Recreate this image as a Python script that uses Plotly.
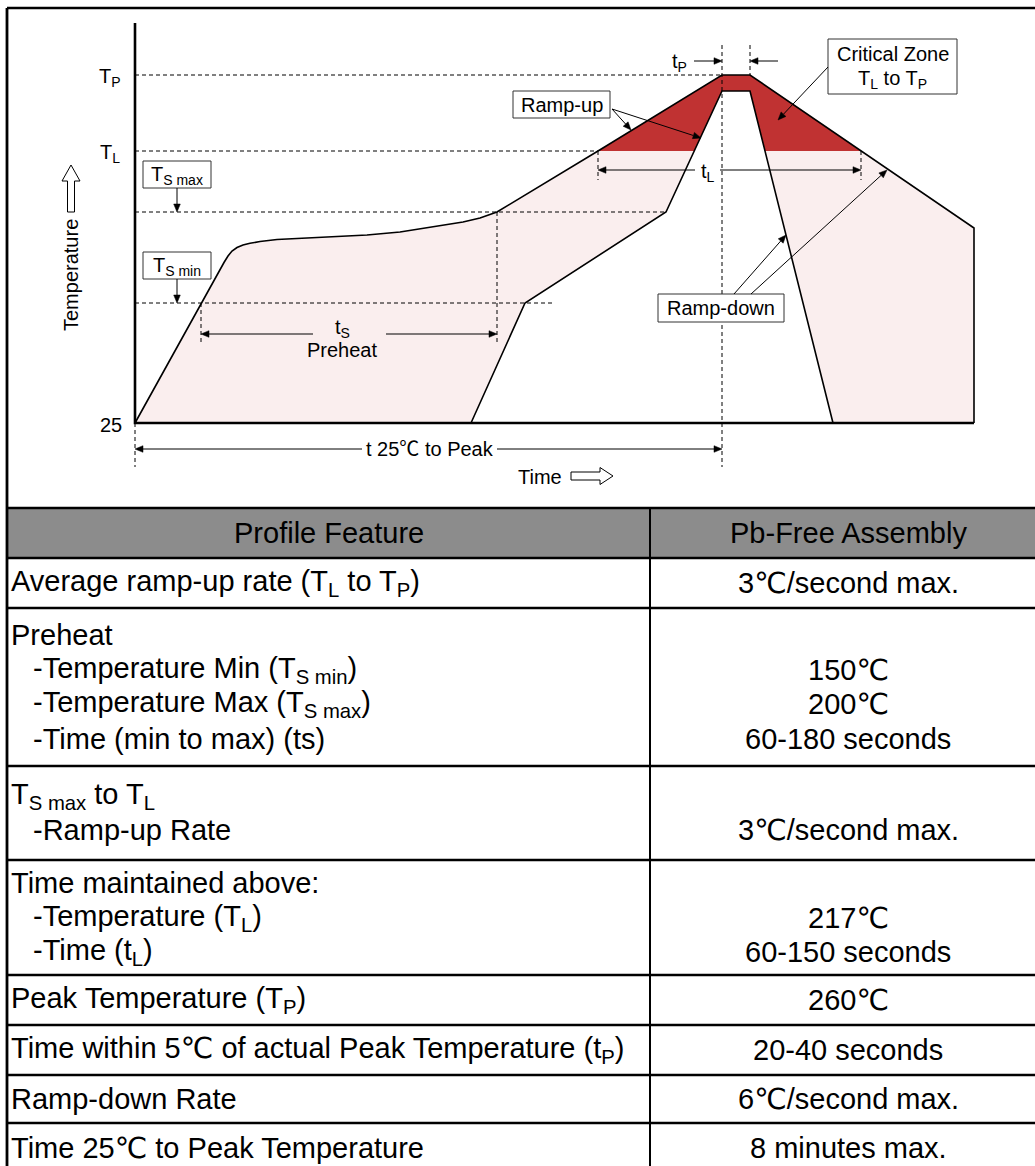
import math
import plotly.graph_objects as go

W, H = 1035, 1166
OX, OY = 135, 423          # pixel position of diagram origin (time 0, 25 °C)

FONT = "Liberation Sans, Arial, DejaVu Sans, sans-serif"
FONT_CJK = "Liberation Sans, Arial, Noto Sans CJK SC, sans-serif"
D_SIZE = 20
T_SIZE = 29

# ---------------- schematic reflow profile (diagram units) ----------------
LEVEL_25 = 0
LEVEL_TS_MIN = 120
LEVEL_TS_MAX = 211
LEVEL_TL = 272
LEVEL_TP5 = 332
LEVEL_TP = 348
AXIS_TOP = 400

# outer (maximum) profile
upper_time = [0, 66, 89, 93, 97, 102, 108, 115, 125, 142, 195, 232, 265, 298, 328, 345, 362,
              463, 587, 615, 726, 839, 839]
upper_temp = [0, 120, 160.5, 167, 172, 175.5, 178, 179.7, 181.5, 183.5, 186.5, 188, 191, 196, 201, 205, 211,
              272, 348, 348, 272, 195, 0]
# inner (minimum) profile
lower_time = [336, 390, 531, 587, 615, 698]
lower_temp = [0, 120, 211, 332, 332, 0]

T_TS_START = 66
T_TS_END = 362
T_TL_START = 463
T_TL_END = 726
T_PEAK_START = 587
T_PEAK_END = 615
T_END = 839

# ---------------- table content ----------------
header = ["Profile Feature", "Pb-Free Assembly"]
feature_lines = [
    ["Average ramp-up rate (T<sub>L</sub> to T<sub>P</sub>)"],
    ["Preheat", "-Temperature Min (T<sub>S min</sub>)", "-Temperature Max (T<sub>S max</sub>)",
     "-Time (min to max) (ts)"],
    ["T<sub>S max</sub> to T<sub>L</sub>", "-Ramp-up Rate"],
    ["Time maintained above:", "-Temperature (T<sub>L</sub>)", "-Time (t<sub>L</sub>)"],
    ["Peak Temperature (T<sub>P</sub>)"],
    ["Time within 5℃ of actual Peak Temperature (t<sub>P</sub>)"],
    ["Ramp-down Rate"],
    ["Time 25℃ to Peak Temperature"],
]
value_lines = [
    ["3℃/second max."],
    ["", "150℃", "200℃", "60-180 seconds"],
    ["", "3℃/second max."],
    ["", "217℃", "60-150 seconds"],
    ["260℃"],
    ["20-40 seconds"],
    ["6℃/second max."],
    ["8 minutes max."],
]
row_edges = [508, 558, 608, 766, 860, 975, 1025, 1075, 1123, 1173]
LINE_GAP = 34.5
COL_X = 650
RIGHT_X = 1046


# ---------------- helpers ----------------
def xp(t):
    return OX + t


def yp(v):
    return OY - v


def PX(x):
    return x / W


def PY(y):
    return 1 - y / H


def clip_above(ts, vs, level):
    pts = []
    for i in range(len(ts)):
        t, v = ts[i], vs[i]
        if i > 0:
            t0, v0 = ts[i - 1], vs[i - 1]
            if (v0 < level < v) or (v0 > level > v):
                f = (level - v0) / (v - v0)
                pts.append((t0 + f * (t - t0), level))
        if v >= level:
            pts.append((t, v))
    return pts


shapes = []
annotations = []
DASH = "4px,3px"


def line_px(x0, y0, x1, y1, width=1.0, dash=None, color="black"):
    ln = dict(color=color, width=width)
    if dash:
        ln["dash"] = dash
    shapes.append(dict(type="line", xref="paper", yref="paper",
                       x0=PX(x0), y0=PY(y0), x1=PX(x1), y1=PY(y1), line=ln))


def rect_px(x0, y0, x1, y1, fill="white", lc="#333333", lw=1.0):
    shapes.append(dict(type="rect", xref="paper", yref="paper",
                       x0=PX(x0), y0=PY(y0), x1=PX(x1), y1=PY(y1),
                       fillcolor=fill, line=dict(color=lc, width=lw)))


def poly_px(pts, fill="black", lc="black", lw=0.5):
    path = "M " + " L ".join(f"{PX(x)},{PY(y)}" for x, y in pts) + " Z"
    shapes.append(dict(type="path", xref="paper", yref="paper", path=path,
                       fillcolor=fill, line=dict(color=lc, width=lw)))


def text_px(x, y, text, size=D_SIZE, xanchor="center", yanchor="middle", family=FONT, angle=0):
    annotations.append(dict(xref="paper", yref="paper", x=PX(x), y=PY(y), text=text,
                            showarrow=False, xanchor=xanchor, yanchor=yanchor,
                            font=dict(family=family, size=size, color="black"),
                            textangle=angle, borderpad=0))


def arrow_px(tipx, tipy, tailx, taily, head=8.0, hw=3.3):
    dx, dy = tipx - tailx, tipy - taily
    d = math.hypot(dx, dy)
    ux, uy = dx / d, dy / d
    bx, by = tipx - ux * head, tipy - uy * head
    line_px(tailx, taily, bx, by, width=1.0)
    poly_px([(tipx, tipy), (bx - uy * hw, by + ux * hw), (bx + uy * hw, by - ux * hw)])


fig = go.Figure()

# pink band between profiles
poly_t = upper_time + lower_time[::-1]
poly_v = upper_temp + lower_temp[::-1]
fig.add_trace(go.Scatter(x=poly_t, y=poly_v, mode="lines", fill="toself",
                         fillcolor="#faeeee", line=dict(width=0), hoverinfo="skip", showlegend=False))

# critical zone (above T_L)
up_clip = clip_above(upper_time, upper_temp, LEVEL_TL)
lo_clip = clip_above(lower_time, lower_temp, LEVEL_TL)
crit = up_clip + lo_clip[::-1]
fig.add_trace(go.Scatter(x=[p[0] for p in crit], y=[p[1] for p in crit], mode="lines", fill="toself",
                         fillcolor="#c03232", line=dict(width=0), hoverinfo="skip", showlegend=False))

# profile outlines
fig.add_trace(go.Scatter(x=upper_time, y=upper_temp, mode="lines",
                         line=dict(color="black", width=1.6), hoverinfo="skip", showlegend=False))
fig.add_trace(go.Scatter(x=lower_time, y=lower_temp, mode="lines",
                         line=dict(color="black", width=1.6), hoverinfo="skip", showlegend=False))
# axes
fig.add_trace(go.Scatter(x=[0, 0, T_END], y=[AXIS_TOP, 0, 0], mode="lines",
                         line=dict(color="black", width=2.6), hoverinfo="skip", showlegend=False))

# ---------------- dashed guide lines ----------------
line_px(OX, yp(LEVEL_TP), xp(T_PEAK_START), yp(LEVEL_TP), dash=DASH)
line_px(OX, yp(LEVEL_TL), xp(T_TL_START), yp(LEVEL_TL), dash=DASH)
line_px(OX, yp(LEVEL_TS_MAX), xp(lower_time[2]), yp(LEVEL_TS_MAX), dash=DASH)
line_px(OX, yp(LEVEL_TS_MIN), xp(lower_time[1]) + 27, yp(LEVEL_TS_MIN), dash=DASH)
line_px(xp(T_PEAK_START), 45, xp(T_PEAK_START), 467, dash=DASH)
line_px(xp(T_PEAK_END), 45, xp(T_PEAK_END), yp(LEVEL_TP), dash=DASH)
line_px(xp(T_TS_START), yp(LEVEL_TS_MIN), xp(T_TS_START), 344, dash=DASH)
line_px(xp(T_TS_END), yp(LEVEL_TS_MAX), xp(T_TS_END), 345, dash=DASH)
line_px(xp(T_TL_START), yp(LEVEL_TL), xp(T_TL_START), 180, dash=DASH)
line_px(xp(T_TL_END), yp(LEVEL_TL), xp(T_TL_END), 180, dash=DASH)
line_px(OX, OY, OX, 467, dash=DASH)

# ---------------- label boxes ----------------
rect_px(143, 161, 211, 188)
rect_px(143, 252, 211, 279)
rect_px(513, 91, 610, 118)
rect_px(828, 39, 957, 94)
rect_px(658, 294, 784, 322)

# hollow direction arrows
ux0 = 71
poly_px([(ux0, 165), (ux0 + 9, 181), (ux0 + 3.5, 181), (ux0 + 3.5, 212), (ux0 - 3.5, 212),
         (ux0 - 3.5, 181), (ux0 - 9, 181)], fill="white", lc="black", lw=1)
ry = 476
poly_px([(613, ry), (600, ry - 8.5), (600, ry - 4), (571, ry - 4), (571, ry + 4), (600, ry + 4),
         (600, ry + 8.5)], fill="white", lc="black", lw=1)

# ---------------- arrows ----------------
arrow_px(177, yp(LEVEL_TS_MAX), 177, 188)
arrow_px(177, yp(LEVEL_TS_MIN), 177, 279)
arrow_px(xp(T_TS_START), 334, 313, 334)
arrow_px(xp(T_TS_END), 334, 386, 334)
arrow_px(xp(T_TL_START), 170, 695, 170)
arrow_px(xp(T_TL_END), 170, 720, 170)
arrow_px(OX, 449, 362, 449)
arrow_px(xp(T_PEAK_START), 449, 497, 449)
arrow_px(xp(T_PEAK_START), 61, 694, 61)
arrow_px(xp(T_PEAK_END), 61, 778, 61)
arrow_px(631, 130, 612, 109)
arrow_px(701, 138, 612, 109)
arrow_px(778, 120, 828, 67)
arrow_px(786, 235, 734, 294)
arrow_px(887, 170, 751, 294)

# ---------------- diagram texts ----------------
text_px(110, yp(LEVEL_TP) + 3, "T<sub>P</sub>")
text_px(110, yp(LEVEL_TL) + 3, "T<sub>L</sub>")
text_px(111, OY + 2, "25")
text_px(71, 275, "Temperature", angle=-90)
text_px(679, 62, "t<sub>P</sub>")
text_px(342, 328, "t<sub>S</sub>")
text_px(342, 350, "Preheat")
text_px(708, 172, "t<sub>L</sub>")
text_px(430, 449, "t 25℃ to Peak", family=FONT_CJK)
text_px(540, 477, "Time")
text_px(177, 175, "T<sub>S max</sub>")
text_px(177, 266, "T<sub>S min</sub>")
text_px(561.5, 104.5, "Ramp-up")
text_px(892.5, 54, "Critical Zone")
text_px(892.5, 80, "T<sub>L</sub> to T<sub>P</sub>")
text_px(721, 308, "Ramp-down")

# ---------------- table ----------------
rect_px(7, row_edges[0], RIGHT_X, row_edges[1], fill="#8c8c8c", lc="rgba(0,0,0,0)", lw=0)
line_px(7, 8, W + 20, 8, width=2.6)
line_px(7, 8, 7, H + 20, width=2.8)
for e in row_edges:
    line_px(7, e, RIGHT_X, e, width=2.5)
line_px(COL_X, row_edges[0], COL_X, row_edges[-1], width=2)
line_px(RIGHT_X, 8, RIGHT_X, row_edges[-1], width=2.5)

hc = (row_edges[0] + row_edges[1]) / 2
text_px((7 + COL_X) / 2, hc, header[0], size=T_SIZE)
text_px((COL_X + RIGHT_X) / 2, hc, header[1], size=T_SIZE)

for i, (flines, vlines) in enumerate(zip(feature_lines, value_lines)):
    c = (row_edges[i + 1] + row_edges[i + 2]) / 2
    n = len(flines)
    for k, s in enumerate(flines):
        y = c + (k - (n - 1) / 2) * LINE_GAP
        x = 32 if s.startswith("-") else 10
        text_px(x, y, s, size=T_SIZE, xanchor="left")
    for k, s in enumerate(vlines):
        if not s:
            continue
        y = c + (k - (n - 1) / 2) * LINE_GAP
        text_px((COL_X + RIGHT_X) / 2, y, s, size=T_SIZE)

fig.update_layout(
    width=W, height=H,
    margin=dict(l=0, r=0, t=0, b=0, pad=0),
    paper_bgcolor="white", plot_bgcolor="white",
    xaxis=dict(range=[-OX, W - OX], visible=False, fixedrange=True),
    yaxis=dict(range=[OY - H, OY], visible=False, fixedrange=True),
    shapes=shapes,
    annotations=annotations,
    showlegend=False,
)

fig.write_html("out.html", config={"displayModeBar": False},
               post_script="document.body.style.margin='0';document.body.style.padding='0';")
